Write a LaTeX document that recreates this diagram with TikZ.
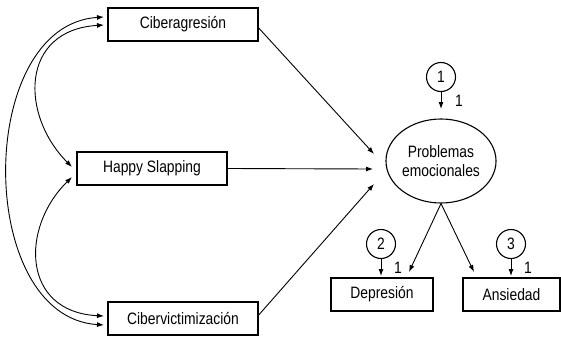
\documentclass[tikz,border=0pt]{standalone}
\usepackage{fontspec}
\setmainfont{Liberation Sans}[FakeStretch=0.84]
\usetikzlibrary{arrows.meta,shapes.geometric}
\begin{document}
\begin{tikzpicture}[x=1pt,y=-1pt,
  every node/.style={font=\fontsize{16.5}{18.5}\selectfont},
  obs/.style={draw,line width=1.4pt,minimum height=33pt,inner sep=0pt},
  lat/.style={draw,ellipse,line width=1.1pt,minimum width=107pt,minimum height=84pt,inner sep=0pt,align=center},
  err/.style={draw,circle,line width=1.1pt,minimum size=29pt,inner sep=0pt},
  arr/.style={line width=0.9pt,-{Latex[length=7pt,width=5pt]}},
  darr/.style={line width=0.9pt,{Latex[length=7pt,width=5pt]}-{Latex[length=7pt,width=5pt]}},
  lbl/.style={inner sep=0pt}]
\useasboundingbox (0,0) rectangle (561,337);
% boxes
\node[obs,minimum width=150pt] (cag) at (183,24.5) {Ciberagresión};
\node[obs,minimum width=150pt] (hs) at (152,168.5) {Happy Slapping};
\node[obs,minimum width=150pt] (cvi) at (183,318.5) {Cibervictimización};
\node[lat] (pe) at (441,161) {Problemas\\emocionales};
\node[obs,minimum width=102pt] (dep) at (382,294.5) {Depresión};
\node[obs,minimum width=97pt] (ans) at (511.5,294.5) {Ansiedad};
% errors
\node[err] (e1) at (441,77) {1};
\node[err] (e2) at (381,244) {2};
\node[err] (e3) at (511,244) {3};
% target points
\coordinate (t1) at (374,154);
\coordinate (t2) at (373,169);
\coordinate (t3) at (374,184);
\coordinate (td) at (409,272);
\coordinate (ta) at (474,272);
\coordinate (s1) at (441,109);
\coordinate (s2) at (381,276);
\coordinate (s3) at (511,276);
\coordinate (cagl1) at (104,17);
\coordinate (cagl2) at (104,25);
\coordinate (hsl1) at (72,167);
\coordinate (hsl2) at (72,177);
\coordinate (cvil1) at (104,316);
\coordinate (cvil2) at (104,325);
% paths
\draw[arr] (cag.east |- 0,28) -- (t1);
\draw[arr] (hs.east) -- (t2);
\draw[arr] (cvi.east |- 0,315) -- (t3);
\draw[arr] (pe.south) -- (td);
\draw[arr] (pe.south) -- (ta);
\draw[arr] (e1.south) -- (s1);
\draw[arr] (e2.south) -- (s2);
\draw[arr] (e3.south) -- (s3);
\node[lbl] (l1) at (459,101) {1};
\node[lbl] (l2) at (398,268) {1};
\node[lbl] (l3) at (528,268) {1};
% covariances
\draw[darr] (cagl1) .. controls (-25,25) and (-25,317) .. (cvil2);
\draw[darr] (cagl2) .. controls (20,30) and (20,115) .. (hsl1);
\draw[darr] (hsl2) .. controls (20,228) and (22,312) .. (cvil1);
\end{tikzpicture}
\end{document}
